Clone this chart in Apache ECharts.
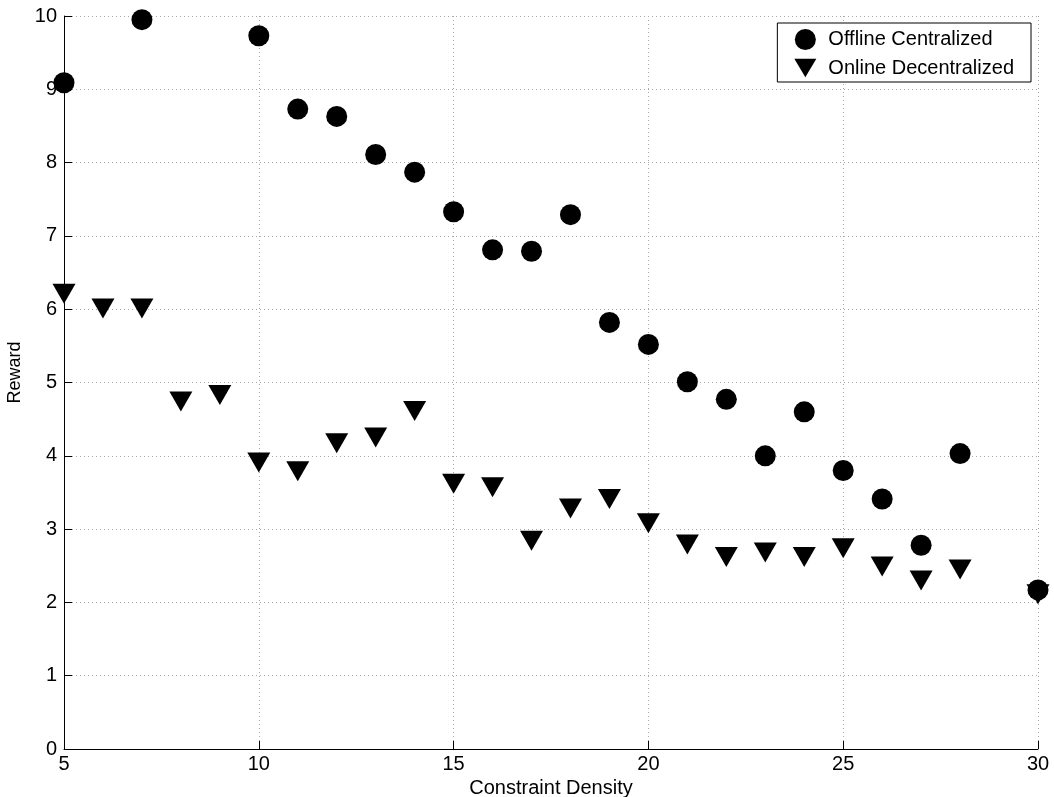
<!DOCTYPE html>
<html>
<head>
<meta charset="utf-8">
<script src="https://cdn.jsdelivr.net/npm/echarts@6/dist/echarts.min.js"></script>
<style>
  html, body { margin: 0; padding: 0; background: #fff; }
  #chart { width: 1054px; height: 797px; }
</style>
</head>
<body>
<div id="chart"></div>
<script>
// Constraint density values (x) shared by both series
const density = [5, 6, 7, 8, 9, 10, 11, 12, 13, 14, 15, 16, 17, 18, 19, 20, 21, 22, 23, 24, 25, 26, 27, 28, 30];

// Reward for the offline centralized solver (null where no point)
const offlineReward = [9.09, null, 9.95, null, null, 9.73, 8.73, 8.63, 8.11, 7.87, 7.33, 6.81, 6.79, 7.29, 5.82, 5.52, 5.01, 4.77, 4.00, 4.60, 3.80, 3.41, 2.78, 4.03, 2.17];

// Reward for the online decentralized solver
const onlineReward = [6.21, 6.01, 6.01, 4.74, 4.83, 3.91, 3.79, 4.17, 4.25, 4.61, 3.62, 3.57, 2.84, 3.28, 3.41, 3.08, 2.79, 2.62, 2.68, 2.62, 2.74, 2.49, 2.30, 2.45, 2.11];

const xTicks = [5, 10, 15, 20, 25, 30];
const yTicks = [0, 1, 2, 3, 4, 5, 6, 7, 8, 9, 10];

const seriesNames = ['Offline Centralized', 'Online Decentralized'];

const FONT = '"Liberation Sans", Arial, Helvetica, sans-serif';
const downTriangle = 'path://M0,0L24,0L12,20Z';

function pairs(xs, ys) {
  const out = [];
  xs.forEach((x, i) => { if (ys[i] !== null) out.push([x, ys[i]]); });
  return out;
}

const chart = echarts.init(document.getElementById('chart'), null, { renderer: 'canvas' });

const gridLine = { show: true, lineStyle: { color: '#a8a8a8', width: 1, type: [1, 3] } };

chart.setOption({
  animation: false,
  backgroundColor: '#ffffff',
  textStyle: { fontFamily: FONT, color: '#000' },
  grid: { left: 64, right: 16, top: 16, bottom: 48, containLabel: false, outerBoundsMode: 'none' },
  legend: {
    orient: 'vertical',
    right: 23,
    top: 23,
    padding: [6, 17, 4, 17],
    itemGap: 8,
    itemWidth: 22,
    itemHeight: 21,
    borderColor: '#000',
    borderWidth: 1,
    backgroundColor: '#fff',
    textStyle: { fontFamily: FONT, fontSize: 20, color: '#000', padding: [0, 0, 0, 7] },
    data: [
      { name: seriesNames[0], icon: 'circle' },
      { name: seriesNames[1], icon: downTriangle }
    ]
  },
  xAxis: {
    type: 'value',
    min: 5,
    max: 30,
    interval: 5,
    name: 'Constraint Density',
    nameLocation: 'middle',
    nameGap: 28,
    nameTextStyle: { fontFamily: FONT, fontSize: 20, color: '#000' },
    axisLine: { show: true, onZero: false, lineStyle: { color: '#000', width: 1 } },
    axisTick: { show: true, inside: true, length: 8, lineStyle: { color: '#000' } },
    axisLabel: {
      fontFamily: FONT, fontSize: 20, color: '#000', margin: 5,
      formatter: v => (xTicks.includes(v) ? String(v) : '')
    },
    splitLine: gridLine
  },
  yAxis: {
    type: 'value',
    min: 0,
    max: 10,
    interval: 1,
    name: 'Reward',
    nameLocation: 'middle',
    nameGap: 39,
    nameTextStyle: { fontFamily: FONT, fontSize: 18, color: '#000', padding: [0, 0, 0, 20] },
    axisLine: { show: true, onZero: false, lineStyle: { color: '#000', width: 1 } },
    axisTick: { show: true, inside: true, length: 8, lineStyle: { color: '#000' } },
    axisLabel: {
      fontFamily: FONT, fontSize: 20, color: '#000', margin: 7,
      formatter: v => (yTicks.includes(v) ? String(v) : '')
    },
    splitLine: gridLine
  },
  series: [
    {
      name: seriesNames[1],
      type: 'scatter',
      symbol: downTriangle,
      symbolSize: [23, 20],
      itemStyle: { color: '#000', opacity: 1 },
      data: pairs(density, onlineReward),
      z: 2
    },
    {
      name: seriesNames[0],
      type: 'scatter',
      symbol: 'circle',
      symbolSize: 21,
      itemStyle: { color: '#000', opacity: 1 },
      data: pairs(density, offlineReward),
      z: 3
    }
  ]
});
</script>
</body>
</html>
